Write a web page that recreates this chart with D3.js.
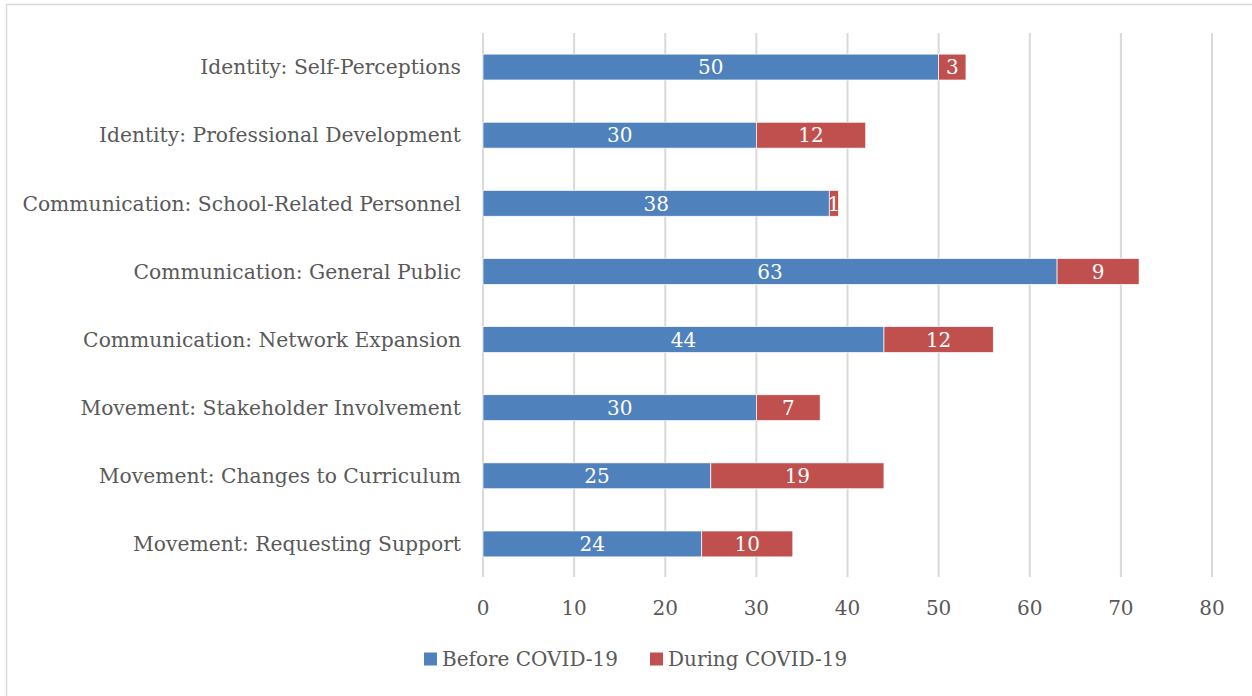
<!DOCTYPE html>
<html>
<head>
<meta charset="utf-8">
<script src="https://cdn.jsdelivr.net/npm/d3@7"></script>
<style>
  body { margin: 0; background: #fff; }
  text { font-family: "DejaVu Serif", serif; }
</style>
</head>
<body>
<script>
// chart data
const categories = [
    "Identity: Self-Perceptions",
    "Identity: Professional Development",
    "Communication: School-Related Personnel",
    "Communication: General Public",
    "Communication: Network Expansion",
    "Movement: Stakeholder Involvement",
    "Movement: Changes to Curriculum",
    "Movement: Requesting Support"
];
const before = [50, 30, 38, 63, 44, 30, 25, 24];
const during = [3, 12, 1, 9, 12, 7, 19, 10];
const seriesNames = ["Before COVID-19", "During COVID-19"];
const xTicks = [0, 10, 20, 30, 40, 50, 60, 70, 80];

const width = 1252, height = 696;
const colors = ["#4f81bd", "#c0504d"];
const textColor = "#595959";

const svg = d3.select("body").append("svg")
    .attr("width", width)
    .attr("height", height);

// outer border (right and bottom edges fall outside the frame)
svg.append("rect")
    .attr("x", 6.5).attr("y", 4.5)
    .attr("width", 1260).attr("height", 700)
    .attr("fill", "none")
    .attr("stroke", "#d9d9d9")
    .attr("stroke-width", 1.5);

const x = d3.scaleLinear().domain([0, 80]).range([483, 1212]);
const y = d3.scaleBand().domain(categories).range([33, 578])
    .paddingInner(0.62).paddingOuter(0.31);

// gridlines
svg.append("g")
    .selectAll("line")
    .data(xTicks)
    .join("line")
    .attr("x1", d => x(d)).attr("x2", d => x(d))
    .attr("y1", 33).attr("y2", 577)
    .attr("stroke", "#d9d9d9")
    .attr("stroke-width", 2);

// stack the data
const rows = categories.map((c, i) => ({ cat: c, before: before[i], during: during[i] }));
const stack = d3.stack().keys(["before", "during"])(rows);

const layer = svg.append("g")
    .selectAll("g")
    .data(stack)
    .join("g")
    .attr("fill", (d, i) => colors[i]);

layer.selectAll("rect")
    .data(d => d)
    .join("rect")
    .attr("x", d => x(d[0]))
    .attr("y", d => y(d.data.cat))
    .attr("width", d => x(d[1]) - x(d[0]))
    .attr("height", y.bandwidth())
    .attr("stroke", "#fff")
    .attr("stroke-width", 0.7);

layer.selectAll("text")
    .data(d => d)
    .join("text")
    .attr("x", d => (x(d[0]) + x(d[1])) / 2)
    .attr("y", d => y(d.data.cat) + y.bandwidth() / 2)
    .attr("dy", "0.36em")
    .attr("text-anchor", "middle")
    .attr("fill", "#fff")
    .attr("font-size", 20)
    .text(d => d[1] - d[0]);

// category labels
svg.append("g")
    .selectAll("text")
    .data(categories)
    .join("text")
    .attr("x", 461)
    .attr("y", d => y(d) + y.bandwidth() / 2)
    .attr("dy", "0.36em")
    .attr("text-anchor", "end")
    .attr("fill", textColor)
    .attr("font-size", 20.3)
    .text(d => d);

// x tick labels
svg.append("g")
    .selectAll("text")
    .data(xTicks)
    .join("text")
    .attr("x", d => x(d))
    .attr("y", 608)
    .attr("dy", "0.36em")
    .attr("text-anchor", "middle")
    .attr("fill", textColor)
    .attr("font-size", 20)
    .text(d => d);

// legend
const legendX = [424, 650];
const legend = svg.append("g")
    .selectAll("g")
    .data(seriesNames)
    .join("g")
    .attr("transform", (d, i) => `translate(${legendX[i]},659)`);

legend.append("rect")
    .attr("x", 0).attr("y", -6.5)
    .attr("width", 13).attr("height", 13)
    .attr("fill", (d, i) => colors[i]);

legend.append("text")
    .attr("x", 18)
    .attr("dy", "0.36em")
    .attr("fill", textColor)
    .attr("font-size", 20)
    .text(d => d);
</script>
</body>
</html>
